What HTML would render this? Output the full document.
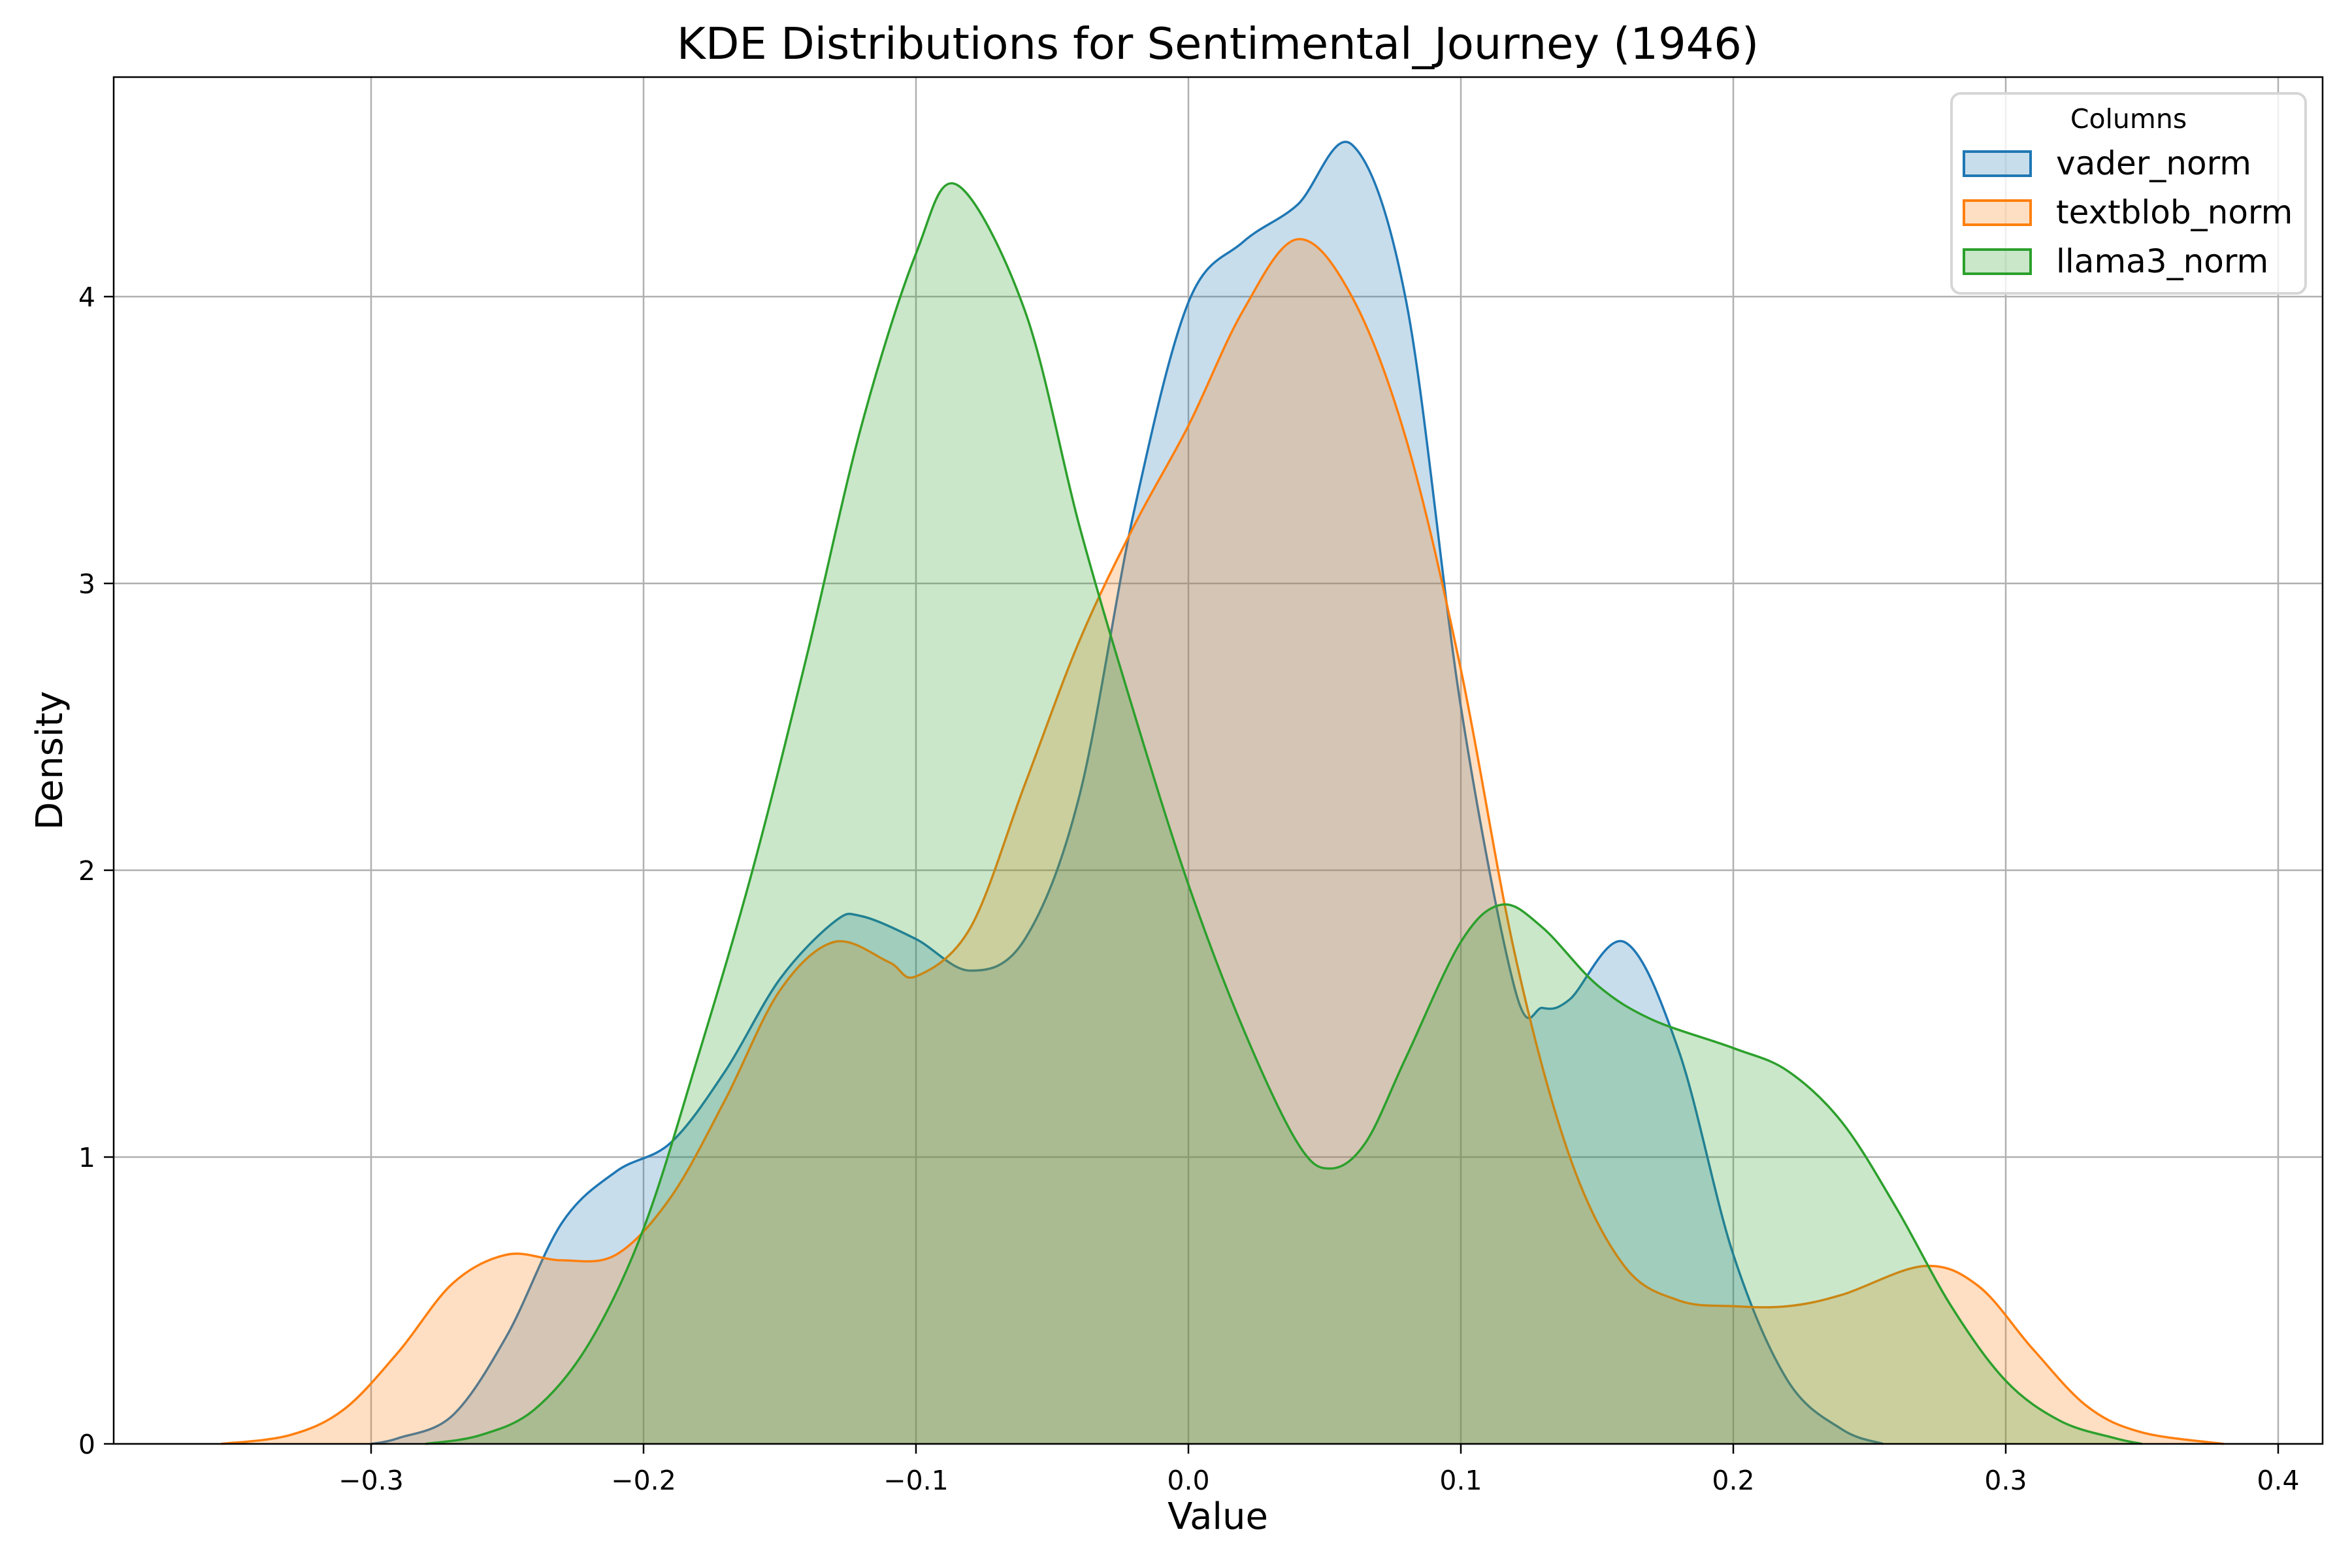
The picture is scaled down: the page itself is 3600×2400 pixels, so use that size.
<!DOCTYPE html>
<html><head><meta charset="utf-8"><style>
html,body{margin:0;padding:0;background:#fff;}
svg{display:block;font-family:"DejaVu Sans","Liberation Sans",sans-serif;}
</style></head><body>
<svg id="chart" width="3600" height="2400" viewBox="0 0 3600 2400" xmlns="http://www.w3.org/2000/svg">
<rect width="3600" height="2400" fill="#fff"/>
<g id="grid"></g>
<g id="marks"></g>
<g id="axes"></g>
<text x="1864" y="90" font-size="67" text-anchor="middle">KDE Distributions for Sentimental_Journey (1946)</text>
<text x="1864" y="2340" font-size="56" text-anchor="middle">Value</text>
<text x="95" y="1164" font-size="56" text-anchor="middle" transform="rotate(-90 95 1164)">Density</text>
<g>
<rect x="2987" y="143" width="542" height="306" rx="14" fill="#fff" fill-opacity="0.8" stroke="#d6d6d6" stroke-width="4"/>
<text x="3258" y="196" font-size="41" text-anchor="middle">Columns</text>
<g>
<rect x="3006" y="232" width="102" height="37" fill="#1f77b4" fill-opacity="0.25" stroke="#1f77b4" stroke-width="4"/>
<text x="3147" y="267" font-size="50">vader_norm</text></g>
<g>
<rect x="3006" y="307" width="102" height="37" fill="#ff7f0e" fill-opacity="0.25" stroke="#ff7f0e" stroke-width="4"/>
<text x="3147" y="342" font-size="50">textblob_norm</text></g>
<g>
<rect x="3006" y="382" width="102" height="37" fill="#2ca02c" fill-opacity="0.25" stroke="#2ca02c" stroke-width="4"/>
<text x="3147" y="417" font-size="50">llama3_norm</text></g>
</g>
</svg>
<script>
const xTicks = [-0.3, -0.2, -0.1, 0.0, 0.1, 0.2, 0.3, 0.4];
const xTickLabels = ["\u22120.3", "\u22120.2", "\u22120.1", "0.0", "0.1", "0.2", "0.3", "0.4"];
const yTicks = [0, 1, 2, 3, 4];
const yTickLabels = ["0", "1", "2", "3", "4"];
const seriesNames = ["vader_norm", "textblob_norm", "llama3_norm"];
const vaderX = [-0.30,-0.29,-0.27,-0.25,-0.23,-0.21,-0.19,-0.17,-0.15,-0.13,-0.12,-0.10,-0.08,-0.06,-0.04,-0.02,0.00,0.02,0.04,0.06,0.08,0.10,0.12,0.13,0.14,0.16,0.18,0.20,0.22,0.24,0.255];
const vaderY = [0,0.02,0.1,0.38,0.77,0.95,1.05,1.3,1.62,1.82,1.84,1.76,1.65,1.76,2.26,3.25,3.98,4.19,4.32,4.53,3.98,2.57,1.58,1.52,1.55,1.75,1.37,0.66,0.22,0.05,0];
const textblobX = [-0.355,-0.33,-0.31,-0.29,-0.27,-0.25,-0.23,-0.21,-0.19,-0.17,-0.15,-0.13,-0.11,-0.10,-0.08,-0.06,-0.04,-0.02,0.00,0.02,0.04,0.06,0.08,0.10,0.12,0.14,0.16,0.18,0.20,0.22,0.24,0.27,0.29,0.31,0.33,0.35,0.38];
const textblobY = [0,0.03,0.12,0.32,0.56,0.66,0.64,0.66,0.86,1.2,1.58,1.75,1.68,1.63,1.8,2.3,2.8,3.2,3.55,3.95,4.2,4.0,3.5,2.7,1.7,1.0,0.62,0.5,0.48,0.48,0.52,0.62,0.55,0.33,0.13,0.04,0];
const llamaX = [-0.28,-0.26,-0.24,-0.22,-0.20,-0.18,-0.16,-0.14,-0.12,-0.10,-0.085,-0.06,-0.04,-0.02,0.00,0.02,0.04,0.052,0.065,0.08,0.10,0.115,0.13,0.15,0.17,0.20,0.22,0.24,0.26,0.28,0.30,0.32,0.34,0.35];
const llamaY = [0,0.03,0.12,0.35,0.75,1.35,2.0,2.75,3.55,4.15,4.39,3.95,3.2,2.55,1.95,1.45,1.05,0.96,1.05,1.35,1.75,1.88,1.8,1.6,1.48,1.38,1.3,1.12,0.82,0.48,0.22,0.08,0.02,0];

const L=174,R=3555,T=118,B=2210;
const X0=1819,XU=4170,YU=439;
function sx(v){return X0+v*XU;}
function sy(v){return B-v*YU;}
const NS="http://www.w3.org/2000/svg";
function mk(tag,attrs,parent){const e=document.createElementNS(NS,tag);for(const k in attrs)e.setAttribute(k,attrs[k]);parent.appendChild(e);return e;}
const grid=document.getElementById('grid'),axes=document.getElementById('axes'),marks=document.getElementById('marks');
xTicks.forEach((t,i)=>{
  const g=mk('line',{x1:sx(t),x2:sx(t),y1:T,y2:B,stroke:'#b0b0b0','stroke-width':2.5},grid);
  
  
  const tk=mk('line',{x1:sx(t),x2:sx(t),y1:B,y2:B+15,stroke:'#000','stroke-width':2.5},axes);
  
  
  const tx=mk('text',{x:sx(t),y:B+70,'font-size':41,'text-anchor':'middle'},axes);
  tx.textContent=xTickLabels[i];
  
  
});
yTicks.forEach((t,i)=>{
  const g=mk('line',{x1:L,x2:R,y1:sy(t),y2:sy(t),stroke:'#b0b0b0','stroke-width':2.5},grid);
  
  
  const tk=mk('line',{x1:L-15,x2:L,y1:sy(t),y2:sy(t),stroke:'#000','stroke-width':2.5},axes);
  
  
  const tx=mk('text',{x:L-28,y:sy(t)+15,'font-size':41,'text-anchor':'end'},axes);
  tx.textContent=yTickLabels[i];
  
  
});
const frame=mk('rect',{x:L,y:T,width:R-L,height:B-T,fill:'none',stroke:'#000','stroke-width':2.5},axes);



function smooth(xs,ys){
  const p=xs.map((x,i)=>[sx(x),sy(ys[i])]);
  let d='M'+p[0][0]+','+p[0][1];
  for(let i=0;i<p.length-1;i++){
    const p0=p[Math.max(0,i-1)],p1=p[i],p2=p[i+1],p3=p[Math.min(p.length-1,i+2)];
    const c1=[p1[0]+(p2[0]-p0[0])/6,p1[1]+(p2[1]-p0[1])/6];
    const c2=[p2[0]-(p3[0]-p1[0])/6,p2[1]-(p3[1]-p1[1])/6];
    d+=' C'+c1[0]+','+Math.min(B,c1[1])+' '+c2[0]+','+Math.min(B,c2[1])+' '+p2[0]+','+p2[1];
  }
  return d;
}
const seriesX=[vaderX,textblobX,llamaX],seriesY=[vaderY,textblobY,llamaY];
const colors=['#1f77b4','#ff7f0e','#2ca02c'];
const keys=['vader','textblob','llama3'];
seriesX.forEach((xs,i)=>{
  const d=smooth(xs,seriesY[i]);
  const f=mk('path',{d:d+' L'+sx(xs[xs.length-1])+','+B+' L'+sx(xs[0])+','+B+' Z',fill:colors[i],'fill-opacity':0.25,stroke:'none'},marks);
  
  
  const l=mk('path',{d:d,fill:'none',stroke:colors[i],'stroke-width':3.5},marks);
  
  
});
</script>
</body></html>
